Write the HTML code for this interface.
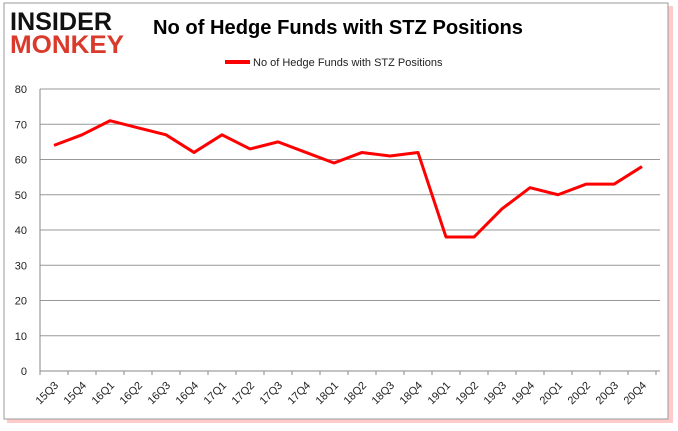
<!DOCTYPE html>
<html><head><meta charset="utf-8"><style>
body{margin:0;background:#fff;}
svg{display:block;font-family:"Liberation Sans",sans-serif;}
</style></head><body>
<svg width="678" height="431">
<rect x="7" y="6" width="666" height="417" fill="#f66" opacity="0.35"/>
<rect x="4" y="3" width="664" height="416" fill="#fff" stroke="#999"/>
<text x="10" y="30" font-size="25" font-weight="bold" fill="#111" textLength="102" lengthAdjust="spacingAndGlyphs">INSIDER</text>
<text x="10" y="53" font-size="25" font-weight="bold" fill="#d93a2b" textLength="114" lengthAdjust="spacingAndGlyphs">MONKEY</text>
<text x="338" y="34" font-size="20" font-weight="bold" text-anchor="middle" fill="#000" textLength="370" lengthAdjust="spacingAndGlyphs">No of Hedge Funds with STZ Positions</text>
<line x1="225" y1="62" x2="250" y2="62" stroke="#f00" stroke-width="4"/>
<text x="253" y="66" font-size="11" fill="#222">No of Hedge Funds with STZ Positions</text>
<g id="g"></g>
</svg>
<script>
const categories=["15Q3","15Q4","16Q1","16Q2","16Q3","16Q4","17Q1","17Q2","17Q3","17Q4","18Q1","18Q2","18Q3","18Q4","19Q1","19Q2","19Q3","19Q4","20Q1","20Q2","20Q3","20Q4"];
const values=[64,67,71,69,67,62,67,63,65,62,59,62,61,62,38,38,46,52,50,53,53,58];
const yTicks=[0,10,20,30,40,50,60,70,80];
const X0=40,X1=656,Y0=371,Y1=89,YMAX=80;
const bw=(X1-X0)/categories.length;
const xs=i=>X0+bw*(i+0.5);
const ys=v=>Y0-(Y0-Y1)*v/YMAX;
const g=document.getElementById('g');const NS="http://www.w3.org/2000/svg";
function mk(t,a){const e=document.createElementNS(NS,t);for(const k in a)e.setAttribute(k,a[k]);g.appendChild(e);return e;}
yTicks.forEach(v=>{
 const l=mk('line',{x1:X0,x2:X1+4,y1:ys(v),y2:ys(v),stroke:v?'#999':'#888'});
 
 
 const t=mk('text',{x:27,y:ys(v)+4,'font-size':11,'text-anchor':'end',fill:'#222'});t.textContent=v;
 
 
});
const ax=mk('line',{x1:X0,x2:X0,y1:Y1,y2:Y0+4,stroke:'#888'});


for(let i=0;i<=categories.length;i++){const tk=mk('line',{x1:X0+bw*i,x2:X0+bw*i,y1:Y0,y2:Y0+4,stroke:'#888'});
 
 }
categories.forEach((c,i)=>{
 const x=xs(i)+5,y=Y0+15;
 const t=mk('text',{x:x,y:y,'font-size':11,'text-anchor':'end',fill:'#222',transform:`rotate(-45 ${x} ${y})`});t.textContent=c;
 
 
});
const p=mk('polyline',{points:values.map((v,i)=>xs(i)+','+ys(v)).join(' '),fill:'none',stroke:'#f00','stroke-width':3,'stroke-linejoin':'round'});


</script>
</body></html>
